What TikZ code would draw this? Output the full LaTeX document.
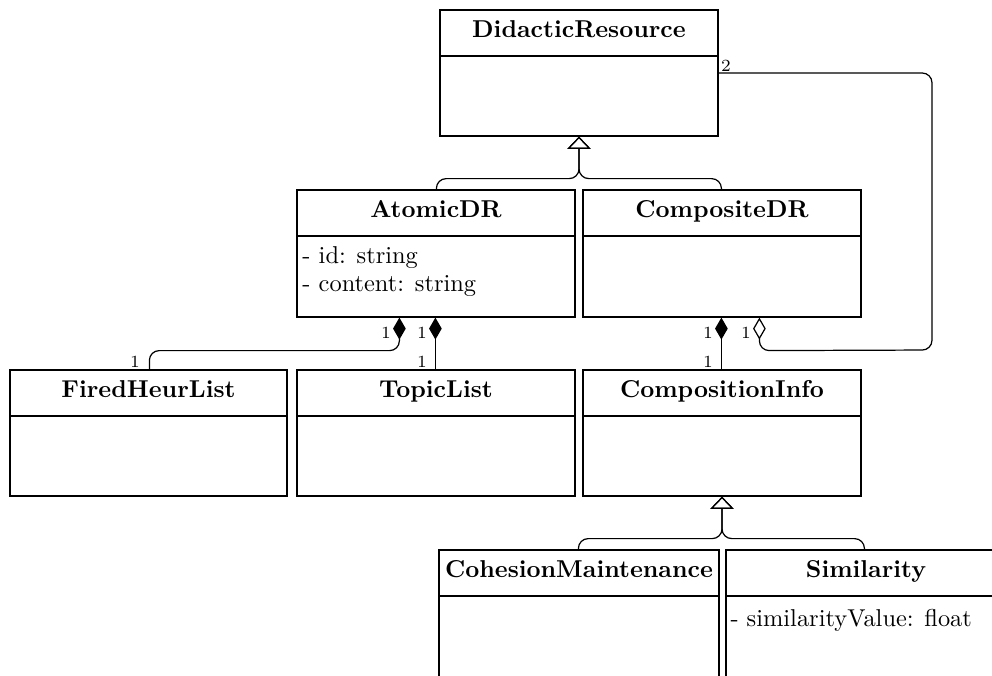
\documentclass[tikz,border=0pt]{standalone}
\usetikzlibrary{arrows.meta,calc,fit}

% A UML class: frame, bold name in the header, divider line
% #1 name, #2 left, #3 top, #4 width, #5 height, #6 class name
\newcommand\umlclass[6]{%
  \coordinate (#1-nw) at (#2,#3);
  \coordinate (#1-se) at ({#2+#4},{#3+#5});
  \node[classframe, fit=(#1-nw)(#1-se)] (#1) {};
  \node[classtitle] (#1-title) at ({#2+#4/2},{#3+27}) {#6};
  \draw[uml] ({#2},{#3+46}) -- ({#2+#4},{#3+46});
}

\begin{document}
\begin{tikzpicture}[x=0.41pt,y=-0.41pt,
  uml/.style={line width=0.5pt},
  classframe/.style={draw, line width=0.5pt, inner sep=0pt},
  classtitle/.style={anchor=base, font=\bfseries, inner sep=0pt},
  attr/.style={anchor=base west, inner sep=0pt},
  mult/.style={font=\scriptsize, inner sep=0pt},
  gen/.style={uml, rounded corners=4pt, {Triangle[open,length=5pt,width=9.5pt]}-},
  compo/.style={uml, rounded corners=4pt, {Diamond[length=9pt,width=5.2pt]}-},
  aggr/.style={uml, rounded corners=4pt, {Diamond[open,length=9pt,width=5.2pt]}-}]

\useasboundingbox (0,0) rectangle (992,675);
\clip (0,0) rectangle (992,675);

% classes
\umlclass{didactic}{440}{10}{278}{126}{DidacticResource}
\umlclass{atomic}{297}{190}{278}{127}{AtomicDR}
\umlclass{composite}{583}{190}{278}{127}{CompositeDR}
\umlclass{fired}{10}{370}{277}{126}{FiredHeurList}
\umlclass{topic}{297}{370}{278}{126}{TopicList}
\umlclass{compinfo}{583}{370}{278}{126}{CompositionInfo}
\umlclass{cohesion}{439}{550}{280}{140}{CohesionMaintenance}
\umlclass{similarity}{726}{550}{280}{140}{Similarity}

% attributes
\node[attr] (atomic-id) at (302,263) {- id: string};
\node[attr] (atomic-content) at (302,291) {- content: string};
\node[attr] (similarity-value) at (730,626) {- similarityValue: float};

% generalizations
\draw[gen] (didactic.south) -- ++(0,42) -| ($(atomic.north west)+(140,0)$);
\draw[gen] (didactic.south) -- ++(0,42) -| ($(composite.north west)+(139,0)$);
\draw[gen] (compinfo.south) -- ++(0,42) -| ($(cohesion.north west)+(140,0)$);
\draw[gen] (compinfo.south) -- ++(0,42) -| ($(similarity.north west)+(139,0)$);

% compositions
\draw[compo] ($(atomic.south west)+(103,0)$) -- ++(0,33) -| ($(fired.north west)+(140,0)$);
\draw[compo] ($(atomic.south west)+(139,0)$) -- ($(topic.north west)+(139,0)$);
\draw[compo] ($(composite.south west)+(139,0)$) -- ($(compinfo.north west)+(139,0)$);

% aggregation of two resources into a composite
\coordinate (loop) at (932,350);
\draw[aggr] ($(composite.south west)+(177,0)$) -- ++(0,33) -- (loop) |- (didactic.east);

% multiplicities
\node[mult] (m-fired-a) at (386,333) {1};
\node[mult] (m-fired-b) at (135,362) {1};
\node[mult] (m-topic-a) at (422,333) {1};
\node[mult] (m-topic-b) at (422,362) {1};
\node[mult] (m-info-a) at (708,333) {1};
\node[mult] (m-info-b) at (708,362) {1};
\node[mult] (m-agg-a) at (746,333) {1};
\node[mult] (m-agg-b) at (726,66) {2};
\end{tikzpicture}
\end{document}
